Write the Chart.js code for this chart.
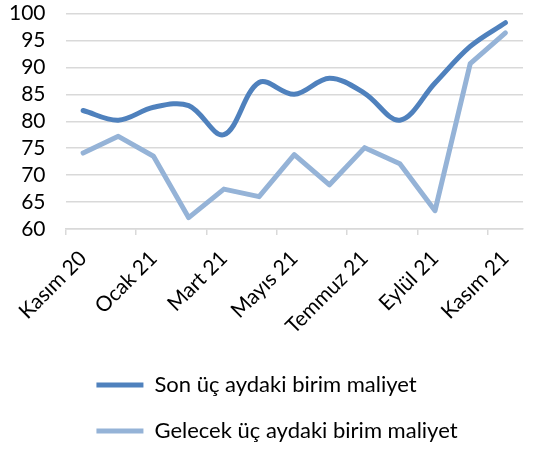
<!DOCTYPE html>
<html>
<head>
<meta charset="utf-8">
<script src="https://cdn.jsdelivr.net/npm/chart.js@4"></script>
<style>
  body { margin: 0; background: #fff; }
</style>
</head>
<body>
<canvas id="grafik" width="535" height="449"></canvas>
<script>
// veriler
const aylar = ["Kasım 20", "Aralık 20", "Ocak 21", "Şubat 21", "Mart 21", "Nisan 21", "Mayıs 21",
               "Haziran 21", "Temmuz 21", "Ağustos 21", "Eylül 21", "Ekim 21", "Kasım 21"];
const sonUcAy = [82.0, 80.2, 82.6, 82.9, 77.5, 87.2, 85.0, 88.0, 85.2, 80.2, 87.1, 93.9, 98.3];
const gelecekUcAy = [74.1, 77.2, 73.5, 62.1, 67.4, 66.0, 73.8, 68.2, 75.1, 72.1, 63.4, 90.7, 96.4];
const etiketler = ["Son üç aydaki birim maliyet", "Gelecek üç aydaki birim maliyet"];

const yazi = "Lato, 'Open Sans', sans-serif";
const gridRenk = "#d9d9d9";

// iki legend satiri ayni yerden baslasin, biraz saga kaysin
const legendHiza = {
  id: "legendHiza",
  afterLayout(chart) {
    const lg = chart.legend;
    if (!lg || !lg.lineWidths) return;
    const enGenis = Math.max(...lg.lineWidths);
    lg.lineWidths = lg.lineWidths.map(() => enGenis);
    lg.left += 23;
  }
};

new Chart(document.getElementById("grafik"), {
  type: "line",
  data: {
    labels: aylar,
    datasets: [
      {
        label: etiketler[0],
        data: sonUcAy,
        borderColor: "#4f81bd",
        backgroundColor: "#4f81bd",
        borderWidth: 5,
        borderCapStyle: "round",
        borderJoinStyle: "round",
        pointRadius: 0,
        tension: 0.35,
        fill: false
      },
      {
        label: etiketler[1],
        data: gelecekUcAy,
        borderColor: "#95b3d7",
        backgroundColor: "#95b3d7",
        borderWidth: 5,
        borderCapStyle: "round",
        borderJoinStyle: "round",
        pointRadius: 0,
        tension: 0,
        fill: false
      }
    ]
  },
  options: {
    responsive: false,
    animation: false,
    layout: { padding: { left: 8, right: 12, top: 0, bottom: -3 } },
    plugins: {
      tooltip: { enabled: false },
      legend: {
        position: "bottom",
        labels: {
          usePointStyle: true,
          pointStyle: "line",
          pointStyleWidth: 47,
          padding: 24,
          color: "#000",
          font: { family: yazi, size: 22 }
        }
      }
    },
    scales: {
      x: {
        offset: true,
        grid: {
          offset: true,
          drawOnChartArea: false,
          drawTicks: true,
          tickLength: 6,
          lineWidth: 1.5,
          tickColor: (c) => c.index % 2 === 0 ? gridRenk : "rgba(0,0,0,0)"
        },
        border: { display: true, color: gridRenk, width: 1.5 },
        ticks: {
          autoSkip: false,
          maxRotation: 45,
          minRotation: 45,
          padding: 11,
          color: "#000",
          font: { family: yazi, size: 21 },
          callback: function (v, i) { return i % 2 === 0 ? this.getLabelForValue(v) : ""; }
        }
      },
      y: {
        min: 60,
        max: 100,
        grid: { color: gridRenk, lineWidth: 1.5, drawTicks: true, tickLength: 19, tickColor: "rgba(0,0,0,0)" },
        border: { display: false },
        ticks: {
          stepSize: 5,
          autoSkip: false,
          padding: 1,
          color: "#000",
          font: { family: yazi, size: 21 }
        }
      }
    }
  },
  plugins: [legendHiza]
});
</script>
</body>
</html>
